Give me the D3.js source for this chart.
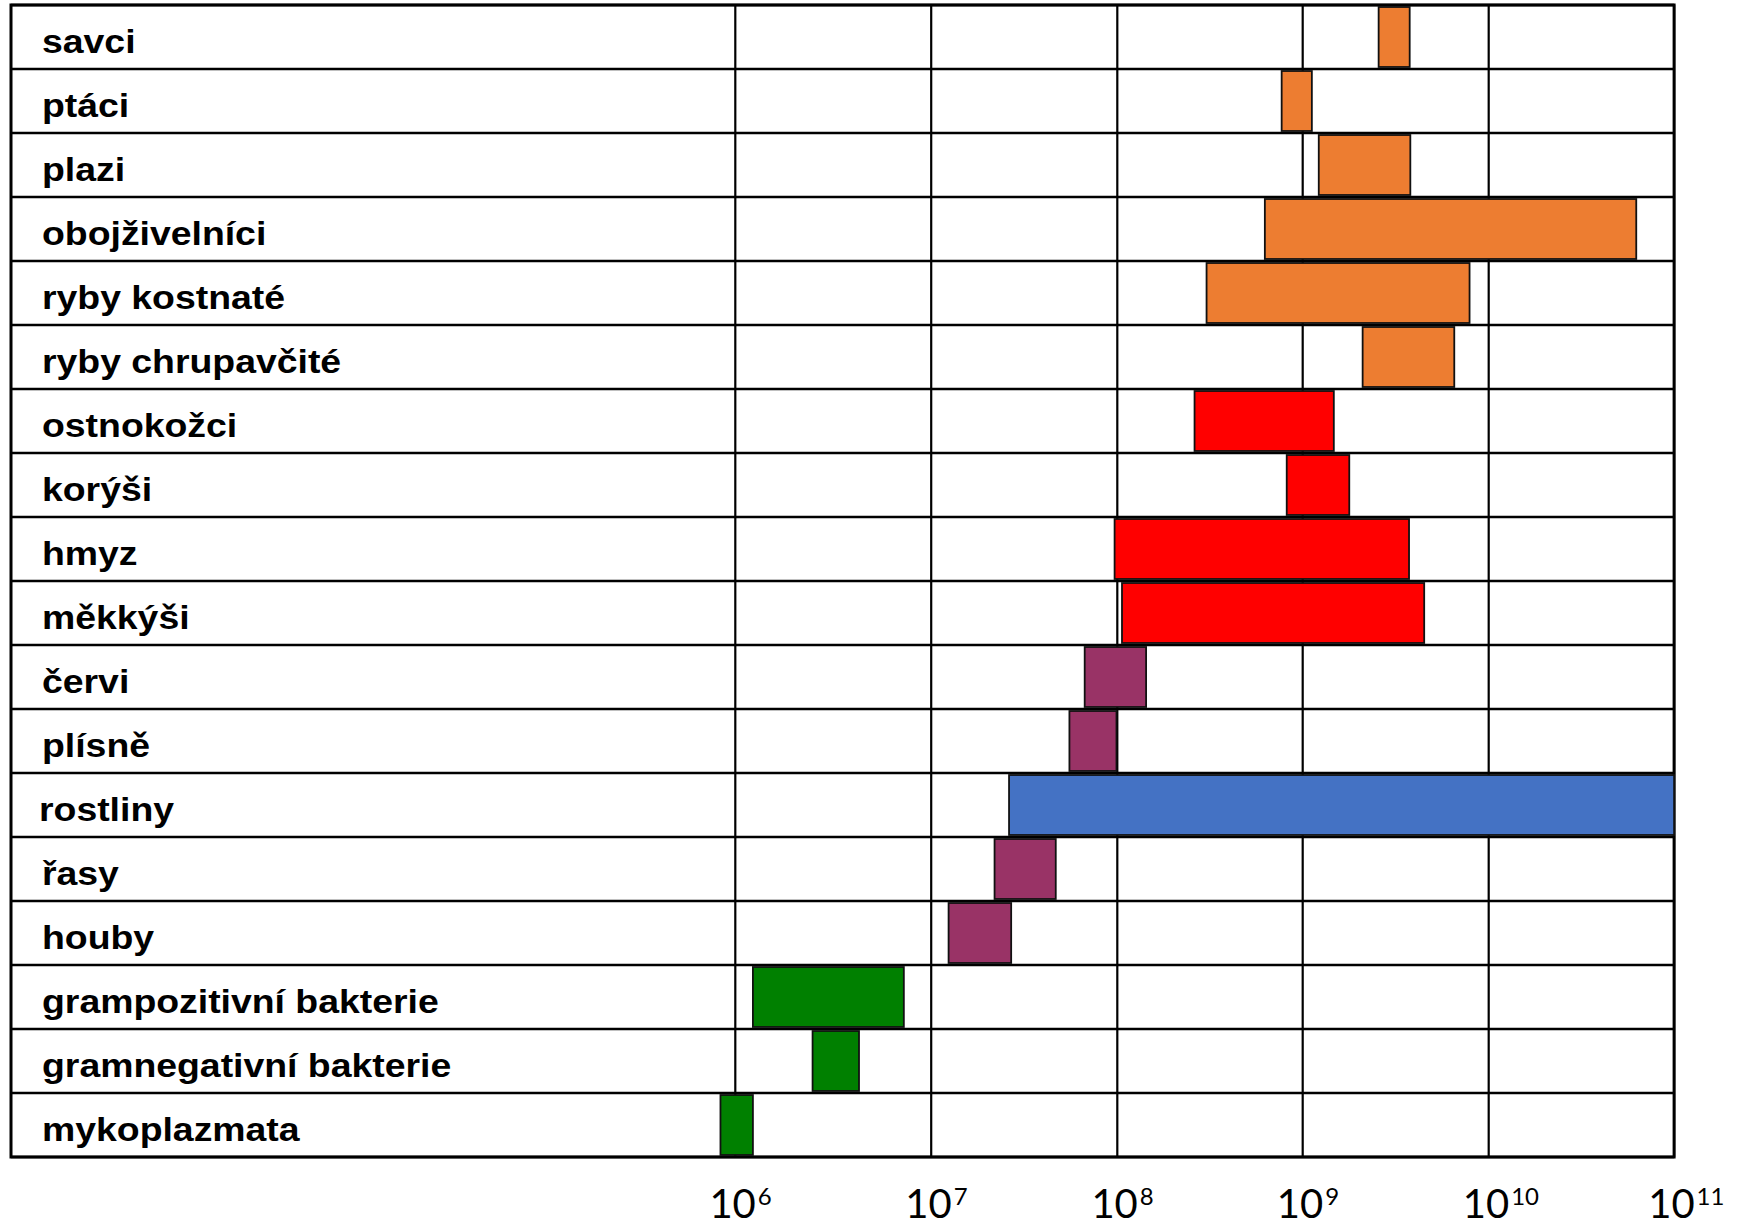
<!DOCTYPE html>
<html>
<head>
<meta charset="utf-8">
<script src="https://cdn.jsdelivr.net/npm/d3@7"></script>
<style>
  html, body { margin: 0; padding: 0; background: #fff; }
  svg { display: block; }
</style>
</head>
<body>
<svg id="chart" width="1742" height="1228"></svg>
<script>
// ---------- DATA ----------
const categories = ["savci", "ptáci", "plazi", "obojživelníci", "ryby kostnaté", "ryby chrupavčité",
  "ostnokožci", "korýši", "hmyz", "měkkýši", "červi", "plísně", "rostliny", "řasy", "houby",
  "grampozitivní bakterie", "gramnegativní bakterie", "mykoplazmata"];
const groups = ["obratlovci", "obratlovci", "obratlovci", "obratlovci", "obratlovci", "obratlovci",
  "bezobratlí", "bezobratlí", "bezobratlí", "bezobratlí", "nižší", "nižší", "rostliny", "nižší", "nižší",
  "bakterie", "bakterie", "bakterie"];
const minValues = [2.56e9, 7.7e8, 1.22e9, 6.25e8, 3.03e8, 2.1e9,
  2.61e8, 8.2e8, 9.67e7, 1.06e8, 6.68e7, 5.53e7, 2.62e7, 2.19e7, 1.24e7,
  1.23e6, 2.48e6, 8.4e5];
const maxValues = [3.76e9, 1.12e9, 3.79e9, 6.25e10, 7.89e9, 6.53e9,
  1.47e9, 1.78e9, 3.73e9, 4.5e9, 1.43e8, 9.9e7, 1e11, 4.67e7, 2.69e7,
  7.25e6, 4.28e6, 1.23e6];
const tickValues = [1e6, 1e7, 1e8, 1e9, 1e10, 1e11];
const tickBase = ["10", "10", "10", "10", "10", "10"];
const tickExp = ["6", "7", "8", "9", "10", "11"];

(function () {
  // ---------- STYLE / LAYOUT ----------
  const colorOf = {
    "obratlovci": "#ED7D31",
    "bezobratlí": "#FF0000",
    "nižší": "#993366",
    "rostliny": "#4472C4",
    "bakterie": "#008000"
  };
  const gridLeft = 11, gridTop = 5, gridBottom = 1157;
  // pixel positions of the decade lines (first decade is slightly wider in the reference)
  const decadePx = [735.3, 931.2, 1117.3, 1302.7, 1488.7, 1674.1];
  const xRight = decadePx[decadePx.length - 1];

  const svg = d3.select("#chart");

  const x = d3.scaleLog().domain(tickValues).range(decadePx);
  const y = d3.scaleBand().domain(categories).range([gridTop, gridBottom]).padding(0);
  const bw = y.bandwidth();
  const barH = 60;

  const rows = categories.map((c, i) => ({
    cat: c, group: groups[i], lo: minValues[i], hi: maxValues[i]
  }));

  // grid: horizontal row lines
  const gGrid = svg.append("g");
  const rowEdges = categories.map(c => y(c)).concat([gridBottom]);
  gGrid.selectAll("line.h").data(rowEdges).join("line")
    .attr("class", "h")
    .attr("x1", gridLeft).attr("x2", xRight)
    .attr("y1", d => d).attr("y2", d => d)
    .attr("stroke", "#000").attr("stroke-width", 2.6);

  // vertical decade lines
  gGrid.selectAll("line.v").data(tickValues).join("line")
    .attr("class", "v")
    .attr("x1", d => x(d)).attr("x2", d => x(d))
    .attr("y1", gridTop).attr("y2", gridBottom)
    .attr("stroke", "#000").attr("stroke-width", 2.2);

  // outer border
  gGrid.append("rect")
    .attr("x", gridLeft).attr("y", gridTop)
    .attr("width", xRight - gridLeft).attr("height", gridBottom - gridTop)
    .attr("fill", "none").attr("stroke", "#000").attr("stroke-width", 3);

  // bars
  svg.append("g").selectAll("rect").data(rows).join("rect")
    .attr("x", d => x(d.lo))
    .attr("width", d => x(d.hi) - x(d.lo))
    .attr("y", d => y(d.cat) + (bw - barH) / 2)
    .attr("height", barH)
    .attr("fill", d => colorOf[d.group])
    .attr("stroke", "#111")
    .attr("stroke-width", 1.8);

  // category labels
  const gLab = svg.append("g");
  gLab.selectAll("g").data(rows).join("g")
    .attr("transform", d => `translate(${d.cat === "rostliny" ? 39 : 42},${y(d.cat) + 47.5})`)
    .append("text")
    .attr("transform", "scale(1.14,1)")
    .attr("font-family", "'Liberation Sans', Arial, sans-serif")
    .attr("font-weight", "bold")
    .attr("font-size", 32.8)
    .attr("fill", "#000")
    .text(d => d.cat);

  // x axis with power-of-ten labels (base and exponent as separate texts)
  const axis = d3.axisBottom(x).tickValues(tickValues).tickSize(0).tickFormat("");
  const gAxis = svg.append("g").attr("transform", `translate(0,${gridBottom})`).call(axis);
  gAxis.select(".domain").remove();
  gAxis.selectAll(".tick").each(function (d, i) {
    const t = d3.select(this);
    t.select("text").remove();
    t.append("text")
      .attr("x", 20).attr("y", 61)
      .attr("text-anchor", "end")
      .attr("font-family", "Lato, 'Open Sans', sans-serif")
      .attr("font-size", 40)
      .attr("fill", "#000")
      .text(tickBase[i]);
    t.append("text")
      .attr("x", 22).attr("y", 48)
      .attr("text-anchor", "start")
      .attr("font-family", "Lato, 'Open Sans', sans-serif")
      .attr("font-size", 24)
      .attr("fill", "#000")
      .text(tickExp[i]);
  });
})();
</script>
</body>
</html>
